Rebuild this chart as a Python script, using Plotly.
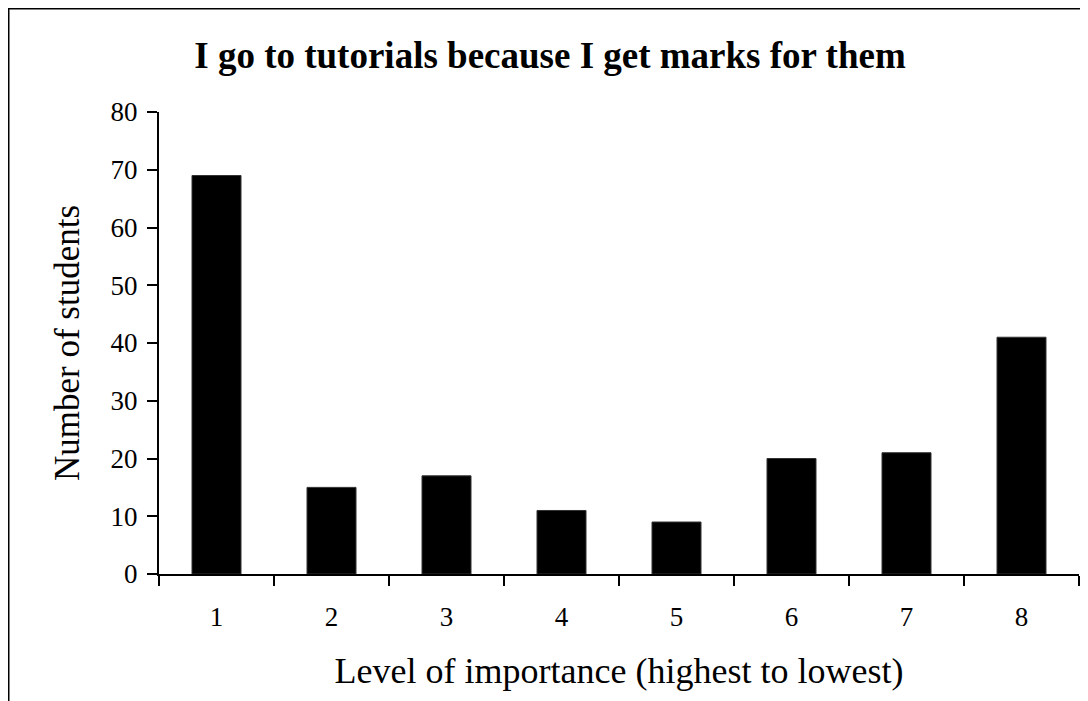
import plotly.graph_objects as go

categories = ["1", "2", "3", "4", "5", "6", "7", "8"]
students = [69, 15, 17, 11, 9, 20, 21, 41]
y_ticks = [0, 10, 20, 30, 40, 50, 60, 70, 80]

title_text = "<b>I go to tutorials because I get marks for them</b>"
x_title = "Level of importance (highest to lowest)"
y_title = "Number of students"

FONT = "Liberation Serif, Times New Roman, serif"

fig = go.Figure()
fig.add_trace(go.Bar(
    x=categories, y=students,
    marker=dict(color="black", line=dict(color="#333333", width=1)),
    showlegend=False,
))

# page has an 8px body margin; figure is sized to fit the 1088x701 window
W, H = 1080, 693
L, R, T, B = 151, 9, 104, 127
pw, ph = W - L - R, H - T - B

def px_to_paper_x(px):
    return (px - L) / pw

def px_to_paper_y(py):
    return (H - B - py) / ph

fig.update_layout(
    width=W, height=H,
    margin=dict(l=L, r=R, t=T, b=B, autoexpand=False),
    paper_bgcolor="white", plot_bgcolor="white",
    font=dict(family=FONT, color="black"),
    bargap=0.574,
    title=dict(text=title_text, font=dict(size=37, family=FONT, color="black"),
               x=542 / W, xanchor="center", xref="container",
               y=1 - 47 / H, yanchor="middle", yref="container"),
    xaxis=dict(
        type="category", tickson="boundaries", ticks="outside", ticklen=10,
        tickwidth=2, tickcolor="black", showline=True, linecolor="black", linewidth=2,
        showgrid=False, tickfont=dict(size=27, family=FONT),
        title=dict(text=x_title, font=dict(size=36, family=FONT), standoff=26),
        ticklabelstandoff=18,
    ),
    yaxis=dict(
        range=[0, 80], tickvals=y_ticks, ticks="outside", ticklen=10, tickwidth=2,
        tickcolor="black", showline=True, linecolor="black", linewidth=2,
        showgrid=False, zeroline=False, tickfont=dict(size=27, family=FONT),
        title=dict(text=y_title, font=dict(size=35, family=FONT), standoff=20),
        ticklabelstandoff=4,
    ),
    shapes=[
        dict(type="line", xref="paper", yref="paper",
             x0=px_to_paper_x(0), x1=px_to_paper_x(1100),
             y0=px_to_paper_y(0.5), y1=px_to_paper_y(0.5),
             line=dict(color="black", width=2)),
        dict(type="line", xref="paper", yref="paper",
             x0=px_to_paper_x(0.5), x1=px_to_paper_x(0.5),
             y0=px_to_paper_y(0), y1=px_to_paper_y(720),
             line=dict(color="black", width=2)),
    ],
)

fig.write_html("out.html")
